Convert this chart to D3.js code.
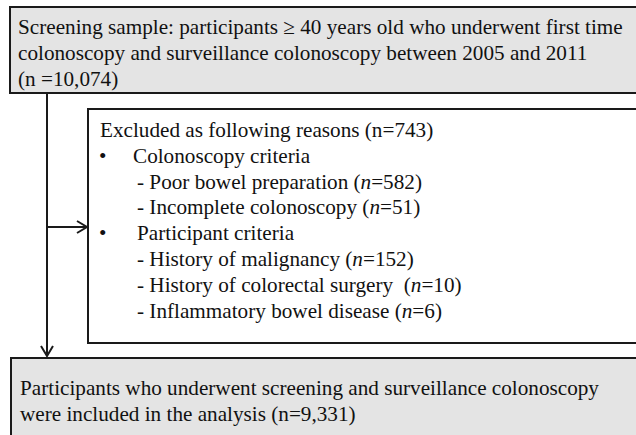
<!DOCTYPE html>
<html>
<head>
<meta charset="utf-8">
<script src="https://cdn.jsdelivr.net/npm/d3@7"></script>
<style>
	html, body { margin: 0; padding: 0; background: #fff; }
	svg { display: block; }
	text { font-family: "Liberation Serif", "Times New Roman", serif; font-size: 21.2px; fill: #111; white-space: pre; }
</style>
</head>
<body>
<div id="chart"></div>
<script>
// flowchart content
const screeningLines = [
	"Screening sample: participants \u2265 40 years old who underwent first time",
	"colonoscopy and surveillance colonoscopy between 2005 and 2011",
	"(n =10,074)"
];
const excludedTitle = "Excluded as following reasons (n=743)";
const groupLabels = [ "Colonoscopy criteria", "Participant criteria" ];
const colonoscopyReasons = [ "Poor bowel preparation", "Incomplete colonoscopy" ];
const colonoscopyCounts = [ 582, 51 ];
const participantReasons = [ "History of malignancy", "History of colorectal surgery ", "Inflammatory bowel disease" ];
const participantCounts = [ 152, 10, 6 ];
const includedLines = [
	"Participants who underwent screening and surveillance colonoscopy",
	"were included in the analysis (n=9,331)"
];

let width = 636,
	height = 435,
	svg = d3.select( '#chart' )
		.append( 'svg' )
		.attr( 'width', width )
		.attr( 'height', height ),
	gray = '#e4e4e4',
	stroke = '#1a1a1a';

// rows of the exclusion box
let rows = [ { text: excludedTitle, kind: 'title' } ];
rows.push( { text: groupLabels[0], kind: 'group' } );
colonoscopyReasons.forEach( ( r, i ) => rows.push( { text: r, n: colonoscopyCounts[i], kind: 'item' } ) );
rows.push( { text: groupLabels[1], kind: 'group' } );
participantReasons.forEach( ( r, i ) => rows.push( { text: r, n: participantCounts[i], kind: 'item' } ) );

let lineY = d3.scaleLinear().domain( [ 0, 1 ] ).range( [ 0, 25.8 ] );

// boxes
svg.append( 'rect' )
	.attr( 'x', 10 ).attr( 'y', 7 )
	.attr( 'width', 640 ).attr( 'height', 86 )
	.attr( 'fill', gray ).attr( 'stroke', stroke ).attr( 'stroke-width', 2 );

svg.append( 'rect' )
	.attr( 'x', 88 ).attr( 'y', 109 )
	.attr( 'width', 560 ).attr( 'height', 234 )
	.attr( 'fill', '#fff' ).attr( 'stroke', stroke ).attr( 'stroke-width', 2 );

svg.append( 'rect' )
	.attr( 'x', 11 ).attr( 'y', 358 )
	.attr( 'width', 640 ).attr( 'height', 100 )
	.attr( 'fill', gray ).attr( 'stroke', stroke ).attr( 'stroke-width', 2 );

// connectors
let ax = 47;
svg.append( 'line' )
	.attr( 'x1', ax ).attr( 'y1', 93 ).attr( 'x2', ax ).attr( 'y2', 356 )
	.attr( 'stroke', stroke ).attr( 'stroke-width', 2 );
svg.append( 'path' )
	.attr( 'd', `M${ax - 6},${346} L${ax},${356} L${ax + 6},${346}` )
	.attr( 'fill', 'none' ).attr( 'stroke', stroke ).attr( 'stroke-width', 2 );

let hy = 227;
svg.append( 'line' )
	.attr( 'x1', ax ).attr( 'y1', hy ).attr( 'x2', 87 ).attr( 'y2', hy )
	.attr( 'stroke', stroke ).attr( 'stroke-width', 2 );
svg.append( 'path' )
	.attr( 'd', `M${77},${hy - 6} L${87},${hy} L${77},${hy + 6}` )
	.attr( 'fill', 'none' ).attr( 'stroke', stroke ).attr( 'stroke-width', 2 );

// text: screening box
svg.selectAll( 'text.top' ).data( screeningLines ).enter()
	.append( 'text' ).attr( 'class', 'top' )
	.attr( 'x', 18 )
	.attr( 'y', ( d, i ) => 34 + lineY( i ) )
	.text( d => d );

// text: exclusion box
let ex = svg.selectAll( 'text.ex' ).data( rows ).enter()
	.append( 'text' ).attr( 'class', 'ex' )
	.attr( 'y', ( d, i ) => 137 + lineY( i ) );

ex.filter( d => d.kind === 'title' ).attr( 'x', 100 ).text( d => d.text );
ex.filter( d => d.kind === 'group' ).each( function( d, i ){
	let t = d3.select( this );
	t.append( 'tspan' ).attr( 'x', 99 ).text( '\u2022' );
	t.append( 'tspan' ).attr( 'x', i === 0 ? 133 : 137 ).text( d.text );
} );
ex.filter( d => d.kind === 'item' ).each( function( d ){
	let t = d3.select( this ).attr( 'x', 137 );
	t.append( 'tspan' ).text( '- ' + d.text + ' (' );
	t.append( 'tspan' ).style( 'font-style', 'italic' ).text( 'n' );
	t.append( 'tspan' ).text( '=' + d.n + ')' );
} );

// text: included box
svg.selectAll( 'text.bot' ).data( includedLines ).enter()
	.append( 'text' ).attr( 'class', 'bot' )
	.attr( 'x', 20 )
	.attr( 'y', ( d, i ) => 395 + lineY( i ) )
	.text( d => d );
</script>
</body>
</html>
